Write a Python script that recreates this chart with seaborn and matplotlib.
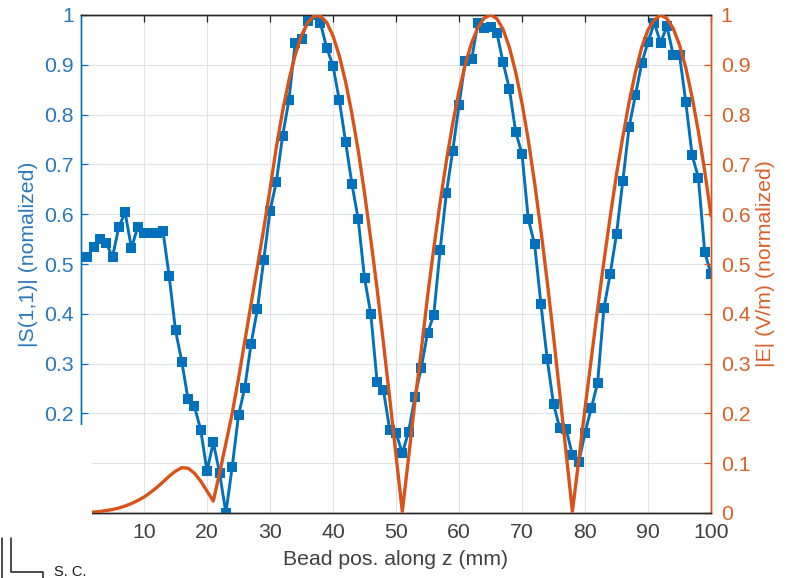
import matplotlib
matplotlib.use("Agg")
import matplotlib.pyplot as plt
import seaborn as sns
from matplotlib.patches import Rectangle
from matplotlib.lines import Line2D
from matplotlib.ticker import FixedLocator, FixedFormatter

# Measured reflection |S11| at each bead position (normalized)
bead_pos_mm = list(range(1, 101))
s11_norm = [
    0.514, 0.534, 0.550, 0.542, 0.514, 0.574, 0.604, 0.532, 0.574, 0.563,
    0.563, 0.562, 0.567, 0.475, 0.367, 0.304, 0.228, 0.214, 0.167, 0.084,
    0.142, 0.080, 0.000, 0.093, 0.196, 0.252, 0.340, 0.409, 0.508, 0.606,
    0.665, 0.757, 0.829, 0.944, 0.952, 0.988, 1.000, 0.984, 0.934, 0.898,
    0.829, 0.745, 0.661, 0.590, 0.472, 0.400, 0.263, 0.247, 0.167, 0.161,
    0.120, 0.163, 0.233, 0.291, 0.361, 0.398, 0.528, 0.643, 0.727, 0.819,
    0.908, 0.911, 0.984, 0.974, 0.976, 0.964, 0.905, 0.851, 0.765, 0.721,
    0.590, 0.540, 0.420, 0.309, 0.219, 0.170, 0.169, 0.116, 0.102, 0.161,
    0.211, 0.261, 0.411, 0.480, 0.560, 0.667, 0.775, 0.839, 0.903, 0.946,
    0.984, 0.944, 0.978, 0.920, 0.920, 0.825, 0.719, 0.673, 0.524, 0.480,
]

# Simulated field magnitude |E| along z (normalized)
field_pos_mm = list(range(0, 101))
e_field_norm = [
    0.000,
    0.001, 0.002, 0.003, 0.005, 0.007, 0.010, 0.014, 0.019, 0.025, 0.032,
    0.041, 0.051, 0.062, 0.074, 0.084, 0.091, 0.090, 0.080, 0.064, 0.044,
    0.024, 0.080, 0.140, 0.200, 0.270, 0.345, 0.420, 0.495, 0.570, 0.650,
    0.734, 0.807, 0.869, 0.920, 0.959, 0.985, 0.998, 0.998, 0.985, 0.958,
    0.918, 0.866, 0.802, 0.728, 0.643, 0.549, 0.450, 0.342, 0.231, 0.116,
    0.003, 0.112, 0.223, 0.325, 0.434, 0.532, 0.623, 0.707, 0.782, 0.847,
    0.901, 0.944, 0.975, 0.994, 1.000, 0.993, 0.971, 0.935, 0.885, 0.823,
    0.749, 0.663, 0.568, 0.465, 0.355, 0.239, 0.121, 0.003, 0.105, 0.210,
    0.310, 0.410, 0.505, 0.595, 0.680, 0.755, 0.825, 0.885, 0.935, 0.970,
    0.990, 1.000, 0.993, 0.973, 0.940, 0.894, 0.835, 0.766, 0.687, 0.597,
]

x_ticks = [10, 20, 30, 40, 50, 60, 70, 80, 90, 100]
x_tick_labels = ["10", "20", "30", "40", "50", "60", "70", "80", "90", "100"]
y_ticks = [0.0, 0.1, 0.2, 0.3, 0.4, 0.5, 0.6, 0.7, 0.8, 0.9, 1.0]
y_tick_labels = ["0", "0.1", "0.2", "0.3", "0.4", "0.5", "0.6", "0.7", "0.8", "0.9", "1"]

BLUE = "#0072BD"
BLUE_TXT = "#2a78bd"
ORANGE = "#D95319"
ORANGE_TXT = "#d9612a"
DARK = "#262626"
TXT = "#404040"

sns.set_theme(style="white")
plt.rcParams["font.family"] = ["Liberation Sans", "DejaVu Sans"]

W, H = 791, 578
fig = plt.figure(figsize=(W / 100, H / 100), dpi=100)
ax = fig.add_axes([81 / W, 1 - 513 / H, 630 / W, 498 / H])

sns.lineplot(x=bead_pos_mm, y=s11_norm, ax=ax, color=BLUE, linewidth=2.1,
             marker="s", markersize=6.8, markeredgewidth=0, zorder=3)

ax2 = ax.twinx()
sns.lineplot(x=field_pos_mm, y=e_field_norm, ax=ax2, color=ORANGE, linewidth=2.4,
             zorder=3)

for a in (ax, ax2):
    a.set_xlim(0, 100)
    a.set_ylim(0, 1)
    a.yaxis.set_major_locator(FixedLocator(y_ticks))
    a.yaxis.set_major_formatter(FixedFormatter(y_tick_labels))

ax.xaxis.set_major_locator(FixedLocator(x_ticks))
ax.xaxis.set_major_formatter(FixedFormatter(x_tick_labels))

ax.grid(True, color="#dce2e9", linewidth=0.8)
ax.set_axisbelow(True)

fs = 15.3
ax.tick_params(axis="x", direction="in", length=5, width=0.9, top=True,
               colors=DARK, labelcolor=TXT, labelsize=fs, pad=7)
ax.tick_params(axis="y", direction="in", length=5, width=0.9, left=True, right=False,
               colors=BLUE, labelcolor=BLUE_TXT, labelsize=fs, pad=5)
ax2.tick_params(axis="y", direction="in", length=5, width=0.9, right=True, left=False,
                colors=ORANGE, labelcolor=ORANGE_TXT, labelsize=fs, pad=7)

for a in (ax, ax2):
    for s in a.spines.values():
        s.set_linewidth(1.0)
    a.spines["top"].set_color(DARK)
    a.spines["bottom"].set_color(DARK)
    a.spines["left"].set_color(BLUE)
    a.spines["right"].set_color(ORANGE)

ax.set_xlabel("Bead pos. along z (mm)", fontsize=fs, color=TXT)
ax.xaxis.set_label_coords(0.5, -0.075)
ax.set_ylabel("|S(1,1)| (nomalized)", fontsize=fs, color=BLUE_TXT)
ax.yaxis.set_label_coords(-0.068, 0.52)
ax2.set_ylabel("|E| (V/m) (normalized)", fontsize=fs, color=ORANGE_TXT)
ax2.yaxis.set_label_coords(1.072, 0.50)

# blank panel in the lower-left corner with the short-circuit symbol
fig.add_artist(Rectangle((0, 0), 92 / W, (H - 425) / H, transform=fig.transFigure,
                         facecolor="white", edgecolor="none", zorder=10))


def fx(px):
    return px / W


def fy(py):
    return 1 - py / H


sym = dict(color="#1a1a1a", linewidth=1.1, transform=fig.transFigure, zorder=11)
fig.add_artist(Line2D([fx(2), fx(2)], [fy(538), fy(578)], **sym))
fig.add_artist(Line2D([fx(11), fx(11), fx(43), fx(43)],
                      [fy(538), fy(572), fy(572), fy(578)], **sym))
fig.text(fx(54), fy(575.5), "S. C.", fontsize=10.5, color="#1a1a1a",
         ha="left", va="baseline", zorder=11)

fig.savefig("out.png", dpi=100)
